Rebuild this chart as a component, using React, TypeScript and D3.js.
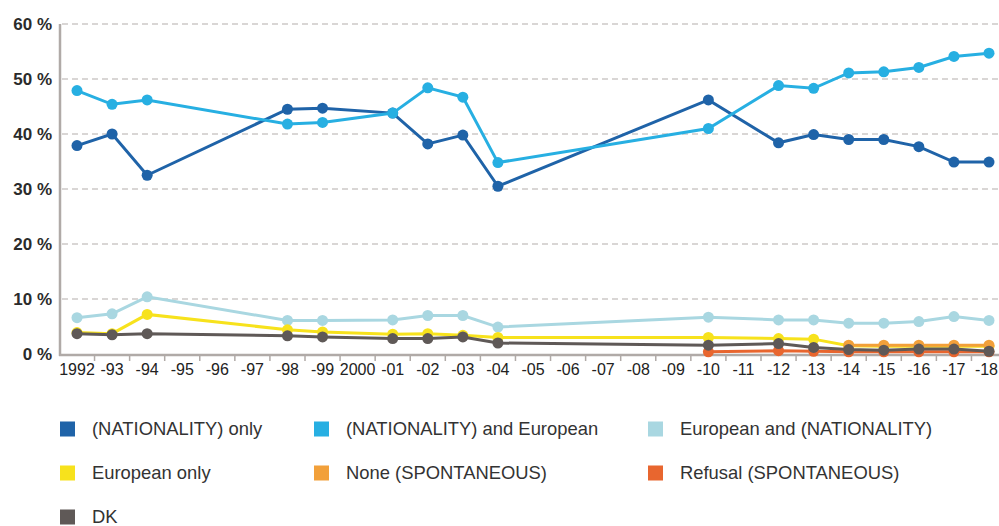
import React from "react";
import * as d3 from "d3";

const allYears = d3.range(1992, 2019);
const yearLabels = allYears.map((y) => (y === 1992 || y === 2000 ? String(y) : "-" + String(y).slice(2)));
const yTicks = [0, 10, 20, 30, 40, 50, 60];

const surveyYears = [1992, 1993, 1994, 1998, 1999, 2001, 2002, 2003, 2004, 2010, 2012, 2013, 2014, 2015, 2016, 2017, 2018];

const nationalityOnly = [37.9, 40.0, 32.5, 44.5, 44.7, 43.8, 38.2, 39.8, 30.5, 46.2, 38.4, 39.9, 39.0, 39.0, 37.7, 34.9, 34.9];
const nationalityAndEuropean = [47.9, 45.4, 46.2, 41.8, 42.1, 43.8, 48.4, 46.7, 34.8, 41.0, 48.8, 48.3, 51.1, 51.3, 52.1, 54.1, 54.7];
const europeanAndNationality = [6.6, 7.3, 10.4, 6.1, 6.1, 6.2, 7.0, 7.0, 4.9, 6.7, 6.2, 6.2, 5.6, 5.6, 5.9, 6.8, 6.1];
const europeanOnly = [3.9, 3.7, 7.2, 4.4, 4.0, 3.6, 3.7, 3.4, 3.0, 3.0, 2.8, 2.7, 1.5, 1.4, 1.4, 1.4, 1.4];
const noneYears = [2014, 2015, 2016, 2017, 2018];
const noneValues = [1.6, 1.6, 1.6, 1.6, 1.6];
const refusalYears = [2010, 2012, 2013, 2014, 2015, 2016, 2017, 2018];
const refusalValues = [0.4, 0.6, 0.5, 0.4, 0.4, 0.4, 0.4, 0.4];
const dkValues = [3.7, 3.5, 3.7, 3.3, 3.1, 2.8, 2.8, 3.1, 2.0, 1.6, 1.9, 1.2, 0.8, 0.7, 0.9, 0.9, 0.5];

const seriesNames = [
  "(NATIONALITY) only",
  "(NATIONALITY) and European",
  "European and (NATIONALITY)",
  "European only",
  "None (SPONTANEOUS)",
  "Refusal (SPONTANEOUS)",
  "DK",
];
const seriesColors = ["#1f63a8", "#27afe2", "#a9d7e1", "#f7e21c", "#f2a03a", "#e8662f", "#5f5957"];

export default function App() {
  const width = 999;
  const height = 526;
  const x = d3.scalePoint<number>().domain(allYears).range([77, 989]);
  const y = d3.scaleLinear().domain([0, 60]).range([354, 24]);
  const step = x.step();

  const series = [
    { years: surveyYears, values: nationalityOnly },
    { years: surveyYears, values: nationalityAndEuropean },
    { years: surveyYears, values: europeanAndNationality },
    { years: surveyYears, values: europeanOnly },
    { years: noneYears, values: noneValues },
    { years: refusalYears, values: refusalValues },
    { years: surveyYears, values: dkValues },
  ];
  const drawOrder = [2, 3, 4, 5, 6, 0, 1];

  const line = d3
    .line<[number, number]>()
    .x((d) => x(d[0]) as number)
    .y((d) => y(d[1]));

  const font = "'Liberation Sans', Arial, Helvetica, sans-serif";
  const legendCols = [60, 314, 648];
  const legendRows = [429, 473, 517];
  const lastYear = allYears[allYears.length - 1];

  return (
    <svg
      width={width}
      height={height}
      style={{ position: "absolute", left: 0, top: 0, background: "#fff" }}
      fontFamily={font}
    >
      {yTicks
        .filter((t) => t > 0)
        .map((t) => (
          <line
            key={"g" + t}
            x1={62}
            x2={width}
            y1={y(t)}
            y2={y(t)}
            stroke="#b3aeab"
            strokeWidth={1.2}
            strokeDasharray="6,4"
          />
        ))}
      {yTicks.map((t) => (
        <text
          key={"yl" + t}
          x={52}
          y={y(t) + 6}
          textAnchor="end"
          fontSize={17}
          fontWeight="bold"
          fill="#2b2b2b"
        >
          {t + " %"}
        </text>
      ))}
      <line x1={60} x2={60} y1={24} y2={356} stroke="#b0aaa7" strokeWidth={2.5} />
      <line x1={59} x2={width} y1={355} y2={355} stroke="#b0aaa7" strokeWidth={2.5} />
      {allYears.slice(0, -1).map((yr) => (
        <line
          key={"t" + yr}
          x1={(x(yr) as number) + step / 2}
          x2={(x(yr) as number) + step / 2}
          y1={355}
          y2={361}
          stroke="#b0aaa7"
          strokeWidth={1.5}
        />
      ))}
      {allYears.map((yr, i) => (
        <text
          key={"xl" + yr}
          x={yr === lastYear ? width - 1 : x(yr)}
          y={375}
          textAnchor={yr === lastYear ? "end" : "middle"}
          fontSize={16}
          fill="#222"
        >
          {yearLabels[i]}
        </text>
      ))}
      {drawOrder.map((si) => {
        const s = series[si];
        const pts: [number, number][] = s.years.map((yr, i) => [yr, s.values[i]]);
        return (
          <g key={"s" + si}>
            <path d={line(pts) || ""} fill="none" stroke={seriesColors[si]} strokeWidth={3} />
            {pts.map((p, i) => (
              <circle key={i} cx={x(p[0])} cy={y(p[1])} r={5.5} fill={seriesColors[si]} />
            ))}
          </g>
        );
      })}
      {seriesNames.map((name, i) => {
        const cx = legendCols[i % 3];
        const cy = legendRows[Math.floor(i / 3)];
        return (
          <g key={"lg" + i}>
            <rect x={cx} y={cy - 7.5} width={15} height={15} fill={seriesColors[i]} />
            <text x={cx + 32} y={cy + 6} fontSize={18.4} fill="#333">
              {name}
            </text>
          </g>
        );
      })}
    </svg>
  );
}
